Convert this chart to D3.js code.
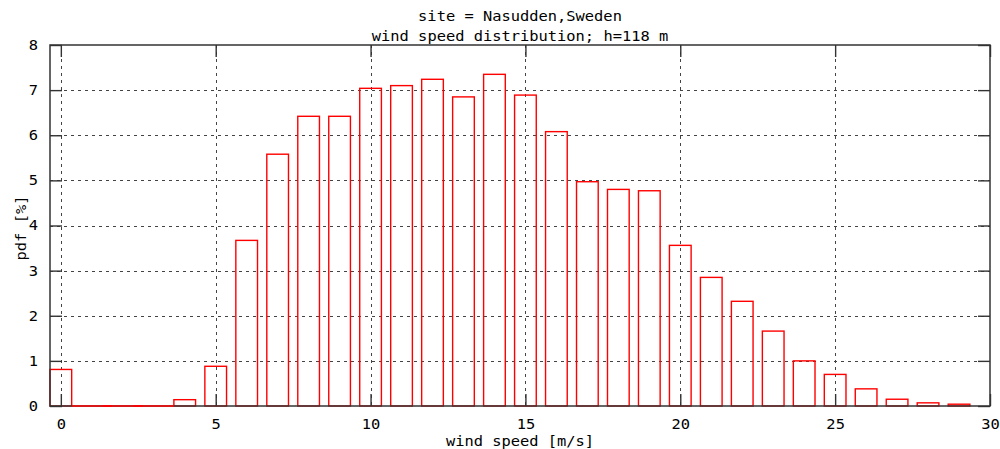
<!DOCTYPE html>
<html><head><meta charset="utf-8">
<script src="https://cdn.jsdelivr.net/npm/d3@7"></script>
<style>
body{margin:0;background:#fff}
svg text{font-family:"DejaVu Sans Mono","Liberation Mono",monospace;font-size:14px;fill:#000}
</style>
</head><body>
<svg id="c" width="1000" height="449"></svg>
<script>
// ---- data ----
const titleLines = ["site = Nasudden,Sweden", "wind speed distribution; h=118 m"];
const xLabel = "wind speed [m/s]";
const yLabel = "pdf [%]";
const windSpeed = [0,1,2,3,4,5,6,7,8,9,10,11,12,13,14,15,16,17,18,19,20,21,22,23,24,25,26,27,28,29];
const pdf = [0.81,0,0,0,0.14,0.88,3.67,5.58,6.42,6.42,7.04,7.10,7.24,6.85,7.35,6.89,6.08,4.97,4.80,4.77,3.56,2.85,2.32,1.66,1.00,0.70,0.38,0.15,0.07,0.04];
const xTicks = [0,5,10,15,20,25,30];
const yTicks = [0,1,2,3,4,5,6,7,8];
const xGrid = [0,5,10,15,20,25];
const yGrid = [1,2,3,4,5,6,7];

// ---- layout ----
const L = 50, R = 990, T = 45, B = 406;
const boxHalf = 0.35;
const sx = 1.1; // horizontal stretch of the bitmap-like font
const svg = d3.select("#c");

const x = d3.scaleLinear().domain([-0.35, 30]).range([L, R]);
const y = d3.scaleLinear().domain([0, 8]).range([B, T]);

// grid
const grid = svg.append("g").attr("stroke", "#444").attr("stroke-width", 1).attr("stroke-dasharray", "3,4");
grid.selectAll(".gx").data(xGrid).join("line")
  .attr("x1", d => Math.round(x(d)) + 0.5).attr("x2", d => Math.round(x(d)) + 0.5)
  .attr("y1", T).attr("y2", B);
grid.selectAll(".gy").data(yGrid).join("line")
  .attr("y1", d => Math.round(y(d)) + 0.5).attr("y2", d => Math.round(y(d)) + 0.5)
  .attr("x1", L).attr("x2", R);

// bars
const data = windSpeed.map((v, i) => ({v, p: pdf[i]}));
svg.append("g").selectAll("rect").data(data.filter(d => d.p > 0)).join("rect")
  .attr("x", d => x(d.v - boxHalf))
  .attr("width", d => x(d.v + boxHalf) - x(d.v - boxHalf))
  .attr("y", d => y(d.p))
  .attr("height", d => y(0) - y(d.p))
  .attr("fill", "none").attr("stroke", "#ff0000").attr("stroke-width", 1.4);

// axes (inward ticks)
function styleAxis(g) {
  g.select(".domain").remove();
  g.selectAll(".tick line").attr("stroke", "#333").attr("stroke-width", 1.4);
}
const ax = svg.append("g").attr("transform", `translate(0,${B})`)
  .call(d3.axisBottom(x).tickValues(xTicks).tickSize(-12).tickPadding(13).tickFormat(d3.format("d")))
  .call(styleAxis);
ax.selectAll(".tick text").attr("transform", `scale(${sx},1)`);
svg.append("g").attr("transform", `translate(0,${T})`)
  .call(d3.axisTop(x).tickValues(xTicks).tickSize(-12).tickFormat(""))
  .call(styleAxis);
const ay = svg.append("g").attr("transform", `translate(${L},0)`)
  .call(d3.axisLeft(y).tickValues(yTicks).tickSize(-12).tickPadding(12).tickFormat(d3.format("d")))
  .call(styleAxis);
ay.selectAll(".tick text").attr("x", -12 / sx).attr("transform", `scale(${sx},1)`);
svg.append("g").attr("transform", `translate(${R},0)`)
  .call(d3.axisRight(y).tickValues(yTicks).tickSize(-12).tickFormat(""))
  .call(styleAxis);
svg.selectAll(".tick text").attr("font-family", null).attr("font-size", null).attr("fill", "#000");

// frame
svg.append("rect").attr("x", L).attr("y", T).attr("width", R - L).attr("height", B - T)
  .attr("fill", "none").attr("stroke", "#333").attr("stroke-width", 1.5);

// zero-height bins drawn along the baseline
svg.append("g").selectAll("line").data(data.filter(d => d.p === 0)).join("line")
  .attr("x1", d => x(d.v - 1 + boxHalf)).attr("x2", d => x(d.v + 1 - boxHalf))
  .attr("y1", y(0)).attr("y2", y(0))
  .attr("stroke", "#ff0000").attr("stroke-width", 1.4);

// titles
const cx = (L + R) / 2;
svg.append("g").selectAll("text").data(titleLines).join("text")
  .attr("transform", (d, i) => `translate(${cx},${21 + i * 20}) scale(${sx},1)`)
  .attr("text-anchor", "middle").text(d => d);
svg.append("text").attr("transform", `translate(${cx},446) scale(${sx},1)`)
  .attr("text-anchor", "middle").text(xLabel);
svg.append("text").attr("transform", `translate(26,228) rotate(-90) scale(${sx},1)`)
  .attr("text-anchor", "middle").text(yLabel);
</script>
</body></html>
